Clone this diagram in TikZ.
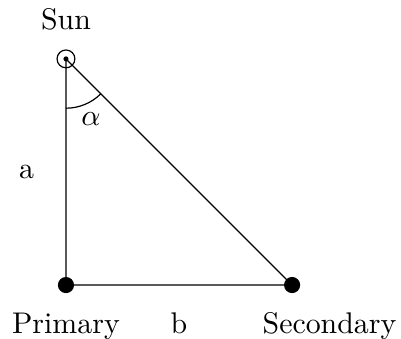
\documentclass[tikz,border=0pt]{standalone}
\usetikzlibrary{positioning, angles, quotes, calc, backgrounds}

\begin{document}
\begin{tikzpicture}[
  star/.style={circle, draw, thin, inner sep=0pt, minimum size=0.21cm},
  body/.style={circle, fill=black, inner sep=0pt, minimum size=0.19cm},
  side/.style={thin}
]
  \useasboundingbox (-0.776,-0.624) rectangle (3.941,3.353);

  \node[star] (sun) at (0,2.66) {};
  \fill (sun) circle (0.03);
  \node[body] (pri) at (0,0) {};
  \node[body] (sec) at (2.66,0) {};
  \coordinate (bmid) at ($(pri)!0.5!(sec)$);

  \begin{scope}[on background layer]
    \draw[side] (sun.center) -- node[left=0.25cm] (alab) {a} (pri.center) -- (sec.center) -- (sun.center);
  \end{scope}

  \pic[draw, thin, "$\alpha$", angle radius=0.58cm, angle eccentricity=1.32] {angle = pri--sun--sec};

  \node[above=0.1cm of sun] (sunlab) {Sun};
  \node[below=0.1cm of pri] (prilab) {Primary};
  \node[below=0.1cm of sec, xshift=0.44cm] (seclab) {Secondary};
  \node[anchor=base] (blab) at (bmid |- prilab.base) {b};
\end{tikzpicture}
\end{document}
